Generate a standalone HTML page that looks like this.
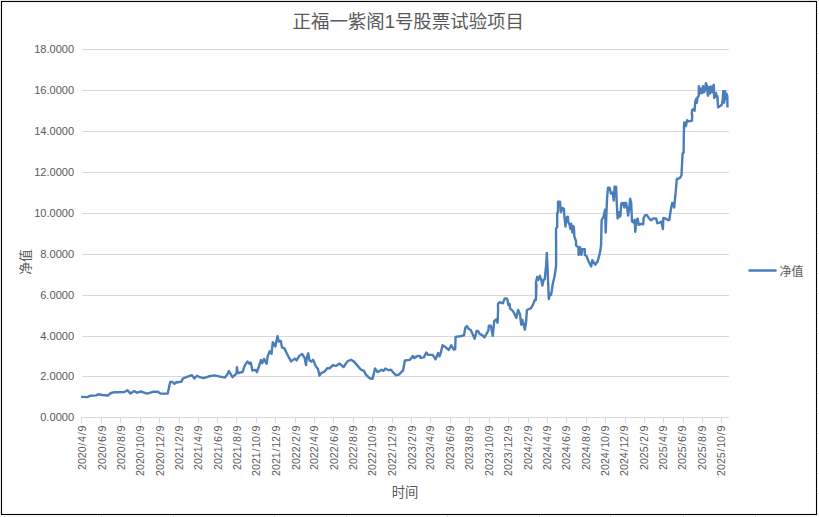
<!DOCTYPE html>
<html lang="zh"><head><meta charset="utf-8"><title>chart</title>
<style>
html,body{margin:0;padding:0;background:#fff;}
body{width:819px;height:517px;overflow:hidden;font-family:"Liberation Sans",sans-serif;}
svg{display:block;}
</style></head><body>
<svg width="819" height="517" viewBox="0 0 819 517" role="img" aria-label="正福一紫阁1号股票试验项目">
<title>正福一紫阁1号股票试验项目</title>
<rect x="0" y="0" width="819" height="517" fill="#fff"/>
<rect x="817" y="13" width="2" height="1" fill="#E1E1E1"/>
<rect x="817" y="33" width="2" height="1" fill="#E1E1E1"/>
<rect x="817" y="53" width="2" height="1" fill="#E1E1E1"/>
<rect x="817" y="73" width="2" height="1" fill="#E1E1E1"/>
<rect x="817" y="93" width="2" height="1" fill="#E1E1E1"/>
<rect x="817" y="113" width="2" height="1" fill="#E1E1E1"/>
<rect x="817" y="133" width="2" height="1" fill="#E1E1E1"/>
<rect x="817" y="153" width="2" height="1" fill="#E1E1E1"/>
<rect x="817" y="173" width="2" height="1" fill="#E1E1E1"/>
<rect x="817" y="193" width="2" height="1" fill="#E1E1E1"/>
<rect x="817" y="213" width="2" height="1" fill="#E1E1E1"/>
<rect x="817" y="233" width="2" height="1" fill="#E1E1E1"/>
<rect x="817" y="253" width="2" height="1" fill="#E1E1E1"/>
<rect x="817" y="273" width="2" height="1" fill="#E1E1E1"/>
<rect x="817" y="293" width="2" height="1" fill="#E1E1E1"/>
<rect x="817" y="313" width="2" height="1" fill="#E1E1E1"/>
<rect x="817" y="333" width="2" height="1" fill="#E1E1E1"/>
<rect x="817" y="353" width="2" height="1" fill="#E1E1E1"/>
<rect x="817" y="373" width="2" height="1" fill="#E1E1E1"/>
<rect x="817" y="393" width="2" height="1" fill="#E1E1E1"/>
<rect x="817" y="413" width="2" height="1" fill="#E1E1E1"/>
<rect x="817" y="433" width="2" height="1" fill="#E1E1E1"/>
<rect x="817" y="453" width="2" height="1" fill="#E1E1E1"/>
<rect x="817" y="473" width="2" height="1" fill="#E1E1E1"/>
<rect x="817" y="493" width="2" height="1" fill="#E1E1E1"/>
<rect x="817" y="513" width="2" height="1" fill="#E1E1E1"/>
<rect x="101" y="515" width="1" height="2" fill="#E1E1E1"/>
<rect x="173" y="515" width="1" height="2" fill="#E1E1E1"/>
<rect x="274" y="515" width="1" height="2" fill="#E1E1E1"/>
<rect x="346" y="515" width="1" height="2" fill="#E1E1E1"/>
<rect x="447" y="515" width="1" height="2" fill="#E1E1E1"/>
<rect x="539" y="515" width="1" height="2" fill="#E1E1E1"/>
<rect x="610" y="515" width="1" height="2" fill="#E1E1E1"/>
<rect x="683" y="515" width="1" height="2" fill="#E1E1E1"/>
<rect x="755" y="515" width="1" height="2" fill="#E1E1E1"/>
<rect x="0" y="0" width="819" height="1" fill="#F2F2F2"/>
<rect x="0" y="0" width="1" height="517" fill="#F2F2F2"/>
<rect x="1.5" y="1.5" width="815" height="513" fill="#fff" stroke="#000" stroke-width="1.1"/>
<rect x="82" y="49" width="647" height="1" fill="#D9D9D9"/>
<rect x="82" y="90" width="647" height="1" fill="#D9D9D9"/>
<rect x="82" y="131" width="647" height="1" fill="#D9D9D9"/>
<rect x="82" y="172" width="647" height="1" fill="#D9D9D9"/>
<rect x="82" y="213" width="647" height="1" fill="#D9D9D9"/>
<rect x="82" y="254" width="647" height="1" fill="#D9D9D9"/>
<rect x="82" y="295" width="647" height="1" fill="#D9D9D9"/>
<rect x="82" y="336" width="647" height="1" fill="#D9D9D9"/>
<rect x="82" y="376" width="647" height="1" fill="#D9D9D9"/>
<rect x="82" y="417" width="647" height="1" fill="#D9D9D9"/>
<rect x="81" y="417" width="1" height="6" fill="#D9D9D9"/>
<rect x="101" y="417" width="1" height="6" fill="#D9D9D9"/>
<rect x="120" y="417" width="1" height="6" fill="#D9D9D9"/>
<rect x="140" y="417" width="1" height="6" fill="#D9D9D9"/>
<rect x="159" y="417" width="1" height="6" fill="#D9D9D9"/>
<rect x="179" y="417" width="1" height="6" fill="#D9D9D9"/>
<rect x="198" y="417" width="1" height="6" fill="#D9D9D9"/>
<rect x="217" y="417" width="1" height="6" fill="#D9D9D9"/>
<rect x="236" y="417" width="1" height="6" fill="#D9D9D9"/>
<rect x="256" y="417" width="1" height="6" fill="#D9D9D9"/>
<rect x="275" y="417" width="1" height="6" fill="#D9D9D9"/>
<rect x="295" y="417" width="1" height="6" fill="#D9D9D9"/>
<rect x="314" y="417" width="1" height="6" fill="#D9D9D9"/>
<rect x="333" y="417" width="1" height="6" fill="#D9D9D9"/>
<rect x="353" y="417" width="1" height="6" fill="#D9D9D9"/>
<rect x="372" y="417" width="1" height="6" fill="#D9D9D9"/>
<rect x="392" y="417" width="1" height="6" fill="#D9D9D9"/>
<rect x="411" y="417" width="1" height="6" fill="#D9D9D9"/>
<rect x="430" y="417" width="1" height="6" fill="#D9D9D9"/>
<rect x="450" y="417" width="1" height="6" fill="#D9D9D9"/>
<rect x="469" y="417" width="1" height="6" fill="#D9D9D9"/>
<rect x="489" y="417" width="1" height="6" fill="#D9D9D9"/>
<rect x="508" y="417" width="1" height="6" fill="#D9D9D9"/>
<rect x="528" y="417" width="1" height="6" fill="#D9D9D9"/>
<rect x="547" y="417" width="1" height="6" fill="#D9D9D9"/>
<rect x="566" y="417" width="1" height="6" fill="#D9D9D9"/>
<rect x="586" y="417" width="1" height="6" fill="#D9D9D9"/>
<rect x="605" y="417" width="1" height="6" fill="#D9D9D9"/>
<rect x="625" y="417" width="1" height="6" fill="#D9D9D9"/>
<rect x="644" y="417" width="1" height="6" fill="#D9D9D9"/>
<rect x="663" y="417" width="1" height="6" fill="#D9D9D9"/>
<rect x="683" y="417" width="1" height="6" fill="#D9D9D9"/>
<rect x="702" y="417" width="1" height="6" fill="#D9D9D9"/>
<rect x="721" y="417" width="1" height="6" fill="#D9D9D9"/>
<path d="M81.1 396.9 L87.3 397.1 L90.0 395.8 L96.3 395.4 L98.1 394.2 L102.4 395.0 L107.9 395.5 L111.0 393.0 L114.6 392.2 L124.4 392.1 L127.5 390.2 L130.5 393.6 L134.2 391.1 L137.2 392.7 L140.9 391.5 L147.0 393.6 L153.7 391.7 L158.0 391.7 L160.4 393.6 L167.7 393.6 L170.2 382.0 L172.6 382.0 L174.5 383.8 L176.3 382.0 L176.7 382.5 L181.6 381.5 L182.8 378.5 L188.3 376.4 L192.0 375.2 L194.4 378.5 L196.9 375.7 L199.9 377.2 L203.6 378.2 L209.1 376.3 L214.6 375.4 L218.8 376.3 L224.9 377.6 L227.4 374.2 L228.9 371.1 L232.5 377.2 L236.5 373.6 L236.9 367.1 L237.8 373.0 L242.6 372.0 L244.7 365.6 L247.5 361.4 L249.4 363.8 L250.8 362.6 L252.4 370.5 L255.5 369.9 L256.9 372.0 L258.5 367.5 L261.0 360.1 L262.2 363.2 L264.0 358.9 L266.5 363.8 L267.7 356.5 L269.5 351.6 L269.8 351.3 L271.6 353.7 L272.8 342.1 L275.3 346.4 L277.5 336.2 L278.9 341.5 L280.8 340.9 L282.0 347.6 L284.4 348.2 L286.9 353.7 L291.1 361.4 L294.8 358.6 L296.6 360.4 L299.1 356.1 L302.1 353.9 L304.6 358.0 L306.0 365.0 L306.8 358.0 L308.2 353.3 L309.5 360.4 L311.3 361.6 L313.1 359.8 L315.6 365.9 L318.0 369.0 L319.5 375.7 L321.1 373.2 L324.7 371.4 L327.2 368.3 L329.6 368.3 L332.6 365.3 L336.3 365.9 L339.4 363.5 L343.6 367.1 L345.5 364.1 L347.9 361.0 L351.0 359.8 L354.0 361.6 L357.7 365.9 L361.0 369.7 L364.0 370.9 L365.9 374.6 L369.5 378.2 L372.6 378.8 L375.0 368.5 L377.5 372.1 L381.7 369.7 L383.6 370.9 L385.4 368.5 L388.5 370.3 L390.9 369.7 L395.8 375.2 L398.8 374.6 L403.1 370.3 L404.9 360.5 L409.8 359.9 L412.9 355.9 L414.1 358.1 L417.8 355.9 L420.0 355.9 L420.5 357.9 L423.9 357.4 L426.3 352.5 L428.3 354.9 L432.7 354.9 L435.6 359.3 L438.1 353.0 L439.5 356.4 L441.0 352.0 L442.5 345.2 L444.9 346.6 L448.8 350.0 L451.2 345.2 L453.7 349.6 L455.2 349.1 L455.6 336.9 L460.0 336.2 L463.9 335.4 L465.4 327.6 L466.9 326.1 L468.8 329.0 L470.8 330.0 L474.7 338.8 L476.6 331.0 L478.1 331.0 L479.6 333.9 L482.5 335.4 L484.5 337.3 L488.4 330.5 L488.8 325.6 L490.8 325.6 L492.8 335.9 L494.2 321.2 L496.2 319.3 L497.6 322.7 L498.1 310.0 L498.0 303.9 L499.8 302.1 L502.9 303.3 L504.7 298.4 L507.2 298.7 L508.4 305.1 L509.6 303.9 L510.2 308.8 L512.6 310.6 L514.5 313.7 L516.3 318.0 L518.1 310.0 L520.0 314.3 L521.2 324.7 L522.4 319.8 L524.9 329.6 L526.1 321.6 L526.9 310.0 L531.0 308.2 L532.8 305.1 L534.6 300.3 L535.8 300.3 L536.5 285.0 L536.0 299.0 L536.0 282.2 L537.2 276.9 L538.4 279.8 L539.9 275.8 L541.3 279.8 L542.4 285.6 L543.6 279.8 L544.7 279.3 L546.1 265.9 L546.8 252.9 L547.6 269.4 L548.8 299.0 L550.0 293.8 L551.1 294.9 L552.9 283.3 L554.6 276.3 L556.1 265.9 L556.1 245.0 L556.0 228.3 L557.2 227.2 L557.2 213.2 L558.0 212.1 L558.0 201.6 L560.0 201.6 L560.9 212.1 L562.1 208.0 L563.8 208.6 L564.4 216.7 L565.5 226.6 L566.5 217.3 L567.9 216.7 L568.4 222.5 L569.6 224.8 L570.4 228.9 L571.1 223.7 L572.3 232.4 L573.1 226.0 L573.9 227.2 L574.3 236.4 L576.0 241.1 L576.1 245.6 L578.4 247.3 L578.6 254.9 L580.2 247.3 L581.3 254.9 L582.5 249.1 L584.8 249.1 L584.8 254.9 L586.5 256.0 L588.3 260.7 L591.2 266.5 L592.3 260.1 L595.2 264.7 L597.6 261.3 L599.3 255.4 L600.5 249.6 L601.1 245.0 L601.6 220.3 L603.7 216.2 L605.1 209.8 L605.7 232.5 L606.5 211.0 L607.2 196.5 L608.0 187.8 L609.7 187.8 L610.9 193.6 L612.6 192.4 L613.8 200.5 L614.6 186.6 L616.1 186.6 L616.7 201.7 L617.6 218.5 L618.8 212.2 L619.6 216.8 L620.4 215.6 L621.3 203.4 L623.1 202.9 L624.3 207.5 L624.8 202.9 L626.2 202.9 L627.4 209.8 L628.1 215.6 L629.2 208.7 L630.1 198.8 L631.2 202.9 L632.0 221.4 L633.5 222.6 L634.7 219.7 L635.3 231.9 L636.4 221.4 L637.6 218.5 L638.8 224.9 L641.1 223.8 L643.2 224.3 L643.6 218.0 L645.2 215.1 L646.9 215.1 L649.2 218.5 L651.0 220.3 L653.3 218.5 L656.2 218.5 L657.3 223.2 L659.7 222.6 L661.4 221.4 L662.9 229.0 L663.4 218.0 L665.5 218.5 L668.4 220.3 L669.5 219.7 L669.5 218.5 L670.7 210.4 L672.2 202.9 L673.3 203.4 L674.2 207.5 L675.3 195.9 L676.1 187.8 L676.8 179.1 L678.8 178.5 L680.5 177.3 L681.5 175.0 L682.6 153.3 L683.6 152.7 L683.8 134.7 L684.2 122.5 L685.3 123.1 L685.9 126.0 L687.1 120.2 L688.8 121.4 L691.9 120.8 L692.3 115.0 L691.8 115.0 L692.0 110.1 L693.7 108.8 L694.6 110.9 L695.2 101.8 L696.3 98.7 L696.9 102.7 L697.5 97.4 L698.7 96.1 L698.9 86.1 L699.8 93.5 L700.7 88.7 L702.0 93.1 L702.9 86.1 L704.2 92.2 L705.0 89.6 L705.9 83.1 L706.8 85.7 L707.9 95.7 L709.0 87.0 L709.8 93.5 L710.9 86.5 L712.0 92.2 L712.9 87.0 L713.8 84.8 L714.2 97.9 L715.1 93.5 L716.1 93.1 L716.8 97.4 L717.4 96.1 L718.1 107.4 L719.4 106.6 L720.7 105.7 L722.0 104.4 L722.7 98.7 L723.3 91.3 L724.2 102.7 L725.1 91.3 L725.9 98.7 L726.6 93.9 L727.3 96.1 L727.5 107.4" fill="none" stroke="#4A7EBB" stroke-width="2.4" stroke-linejoin="round" stroke-linecap="butt"/>
<g font-family="Liberation Sans, sans-serif" font-size="11.3px" fill="#595959" text-anchor="end">
<text x="74.2" y="52.6" textLength="40.0" lengthAdjust="spacingAndGlyphs">18.0000</text>
<text x="74.2" y="93.6" textLength="40.0" lengthAdjust="spacingAndGlyphs">16.0000</text>
<text x="74.2" y="134.6" textLength="40.0" lengthAdjust="spacingAndGlyphs">14.0000</text>
<text x="74.2" y="175.6" textLength="40.0" lengthAdjust="spacingAndGlyphs">12.0000</text>
<text x="74.2" y="216.6" textLength="40.0" lengthAdjust="spacingAndGlyphs">10.0000</text>
<text x="74.2" y="257.6" textLength="34.0" lengthAdjust="spacingAndGlyphs">8.0000</text>
<text x="74.2" y="298.6" textLength="34.0" lengthAdjust="spacingAndGlyphs">6.0000</text>
<text x="74.2" y="339.6" textLength="34.0" lengthAdjust="spacingAndGlyphs">4.0000</text>
<text x="74.2" y="379.6" textLength="34.0" lengthAdjust="spacingAndGlyphs">2.0000</text>
<text x="74.2" y="420.6" textLength="34.0" lengthAdjust="spacingAndGlyphs">0.0000</text>
</g>
<g font-family="Liberation Sans, sans-serif" font-size="11.3px" fill="#595959">
<text transform="translate(86.1 469.98) rotate(-90) scale(0.939 1)" dx="0 0 0 0 0.82 0.82 0.82 0.82">2020/4/9</text>
<text transform="translate(105.5 469.98) rotate(-90) scale(0.939 1)" dx="0 0 0 0 0.82 0.82 0.82 0.82">2020/6/9</text>
<text transform="translate(124.9 469.98) rotate(-90) scale(0.939 1)" dx="0 0 0 0 0.82 0.82 0.82 0.82">2020/8/9</text>
<text transform="translate(144.3 475.88) rotate(-90) scale(0.939 1)" dx="0 0 0 0 0.82 0.82 0 0.82 0.82">2020/10/9</text>
<text transform="translate(163.7 475.88) rotate(-90) scale(0.939 1)" dx="0 0 0 0 0.82 0.82 0 0.82 0.82">2020/12/9</text>
<text transform="translate(183.4 469.98) rotate(-90) scale(0.939 1)" dx="0 0 0 0 0.82 0.82 0.82 0.82">2021/2/9</text>
<text transform="translate(202.2 469.98) rotate(-90) scale(0.939 1)" dx="0 0 0 0 0.82 0.82 0.82 0.82">2021/4/9</text>
<text transform="translate(221.6 469.98) rotate(-90) scale(0.939 1)" dx="0 0 0 0 0.82 0.82 0.82 0.82">2021/6/9</text>
<text transform="translate(241.0 469.98) rotate(-90) scale(0.939 1)" dx="0 0 0 0 0.82 0.82 0.82 0.82">2021/8/9</text>
<text transform="translate(260.4 475.88) rotate(-90) scale(0.939 1)" dx="0 0 0 0 0.82 0.82 0 0.82 0.82">2021/10/9</text>
<text transform="translate(279.8 475.88) rotate(-90) scale(0.939 1)" dx="0 0 0 0 0.82 0.82 0 0.82 0.82">2021/12/9</text>
<text transform="translate(299.5 469.98) rotate(-90) scale(0.939 1)" dx="0 0 0 0 0.82 0.82 0.82 0.82">2022/2/9</text>
<text transform="translate(318.2 469.98) rotate(-90) scale(0.939 1)" dx="0 0 0 0 0.82 0.82 0.82 0.82">2022/4/9</text>
<text transform="translate(337.6 469.98) rotate(-90) scale(0.939 1)" dx="0 0 0 0 0.82 0.82 0.82 0.82">2022/6/9</text>
<text transform="translate(357.0 469.98) rotate(-90) scale(0.939 1)" dx="0 0 0 0 0.82 0.82 0.82 0.82">2022/8/9</text>
<text transform="translate(376.4 475.88) rotate(-90) scale(0.939 1)" dx="0 0 0 0 0.82 0.82 0 0.82 0.82">2022/10/9</text>
<text transform="translate(395.8 475.88) rotate(-90) scale(0.939 1)" dx="0 0 0 0 0.82 0.82 0 0.82 0.82">2022/12/9</text>
<text transform="translate(415.5 469.98) rotate(-90) scale(0.939 1)" dx="0 0 0 0 0.82 0.82 0.82 0.82">2023/2/9</text>
<text transform="translate(434.3 469.98) rotate(-90) scale(0.939 1)" dx="0 0 0 0 0.82 0.82 0.82 0.82">2023/4/9</text>
<text transform="translate(453.7 469.98) rotate(-90) scale(0.939 1)" dx="0 0 0 0 0.82 0.82 0.82 0.82">2023/6/9</text>
<text transform="translate(473.1 469.98) rotate(-90) scale(0.939 1)" dx="0 0 0 0 0.82 0.82 0.82 0.82">2023/8/9</text>
<text transform="translate(492.5 475.88) rotate(-90) scale(0.939 1)" dx="0 0 0 0 0.82 0.82 0 0.82 0.82">2023/10/9</text>
<text transform="translate(511.9 475.88) rotate(-90) scale(0.939 1)" dx="0 0 0 0 0.82 0.82 0 0.82 0.82">2023/12/9</text>
<text transform="translate(531.6 469.98) rotate(-90) scale(0.939 1)" dx="0 0 0 0 0.82 0.82 0.82 0.82">2024/2/9</text>
<text transform="translate(550.7 469.98) rotate(-90) scale(0.939 1)" dx="0 0 0 0 0.82 0.82 0.82 0.82">2024/4/9</text>
<text transform="translate(570.1 469.98) rotate(-90) scale(0.939 1)" dx="0 0 0 0 0.82 0.82 0.82 0.82">2024/6/9</text>
<text transform="translate(589.5 469.98) rotate(-90) scale(0.939 1)" dx="0 0 0 0 0.82 0.82 0.82 0.82">2024/8/9</text>
<text transform="translate(608.9 475.88) rotate(-90) scale(0.939 1)" dx="0 0 0 0 0.82 0.82 0 0.82 0.82">2024/10/9</text>
<text transform="translate(628.3 475.88) rotate(-90) scale(0.939 1)" dx="0 0 0 0 0.82 0.82 0 0.82 0.82">2024/12/9</text>
<text transform="translate(648.0 469.98) rotate(-90) scale(0.939 1)" dx="0 0 0 0 0.82 0.82 0.82 0.82">2025/2/9</text>
<text transform="translate(666.8 469.98) rotate(-90) scale(0.939 1)" dx="0 0 0 0 0.82 0.82 0.82 0.82">2025/4/9</text>
<text transform="translate(686.2 469.98) rotate(-90) scale(0.939 1)" dx="0 0 0 0 0.82 0.82 0.82 0.82">2025/6/9</text>
<text transform="translate(705.6 469.98) rotate(-90) scale(0.939 1)" dx="0 0 0 0 0.82 0.82 0.82 0.82">2025/8/9</text>
<text transform="translate(725.0 475.88) rotate(-90) scale(0.939 1)" dx="0 0 0 0 0.82 0.82 0 0.82 0.82">2025/10/9</text>
</g>
<path d="M749.5 270.5H775.5" stroke="#4A7EBB" stroke-width="2.5" stroke-linecap="round" fill="none"/>
<text x="779.5" y="275.6" font-family="'Liberation Sans', 'Noto Sans CJK SC', sans-serif" font-size="12px" fill="#595959">净值</text>
<text x="292.6" y="27.7" font-family="'Liberation Sans', 'Noto Sans CJK SC', sans-serif" font-size="18px" fill="#595959" textLength="231.3" lengthAdjust="spacingAndGlyphs">正福一紫阁1号股票试验项目</text>
<text transform="translate(30.0 274.75) rotate(-90)" font-family="'Liberation Sans', 'Noto Sans CJK SC', sans-serif" font-size="12.8px" fill="#595959">净值</text>
<text x="391.8" y="496.8" font-family="'Liberation Sans', 'Noto Sans CJK SC', sans-serif" font-size="13.33px" fill="#595959">时间</text>
</svg>
</body></html>
